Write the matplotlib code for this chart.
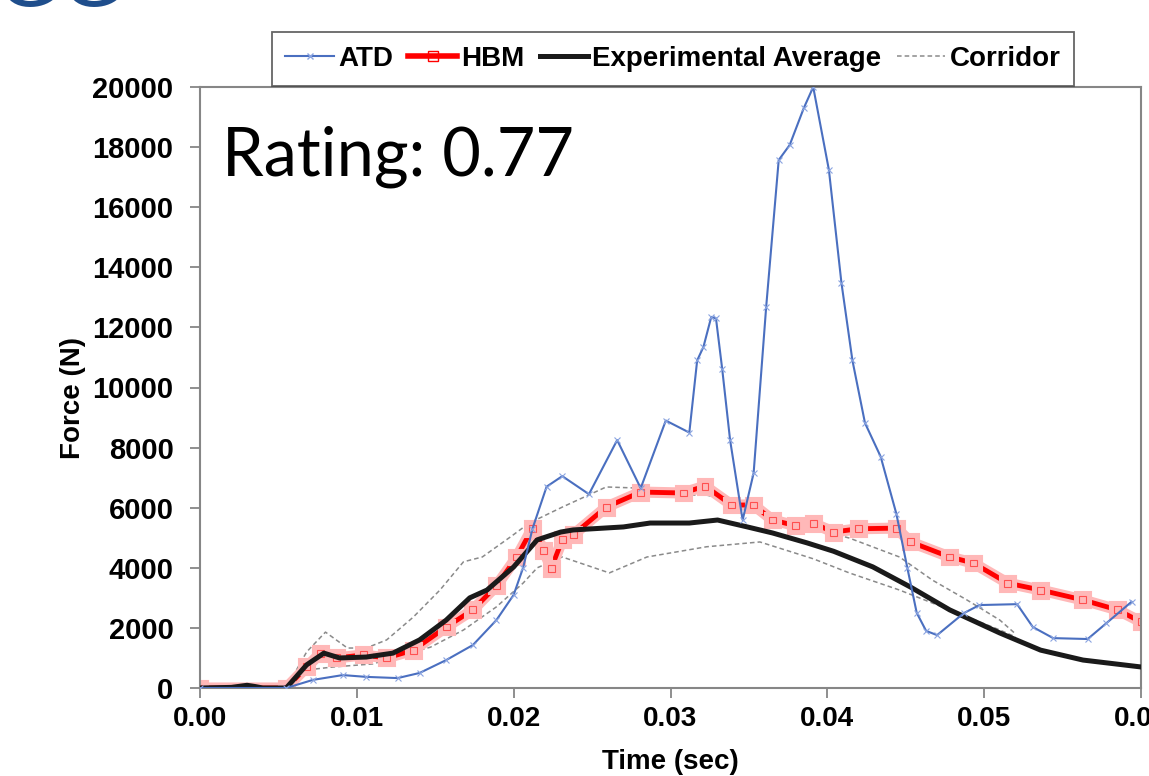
import numpy as np
import matplotlib
matplotlib.use("Agg")
import matplotlib.pyplot as plt
import matplotlib.patheffects as pe
from matplotlib.lines import Line2D

plt.rcParams['font.family'] = ['Liberation Sans', 'DejaVu Sans']

# ATD (dummy) force trace
atd_t = [0.0, 0.0055, 0.0072, 0.0091, 0.0106, 0.0126, 0.0140, 0.0157, 0.0174, 0.0189,
         0.0200, 0.0206, 0.0212, 0.0221, 0.0231, 0.0248, 0.0266, 0.0281, 0.0297, 0.0312,
         0.0317, 0.0321, 0.0326, 0.0329, 0.0333, 0.0338, 0.0346, 0.0353, 0.0361, 0.0369,
         0.0376, 0.0385, 0.0391, 0.0401, 0.0409, 0.0416, 0.0424, 0.0434, 0.0444, 0.0451,
         0.0457, 0.0463, 0.0470, 0.0487, 0.0497, 0.0521, 0.0531, 0.0544, 0.0566, 0.0578,
         0.0594]
atd_f = [0, 0, 270, 430, 370, 330, 500, 930, 1430, 2260,
         3100, 4000, 5300, 6700, 7050, 6450, 8250, 6650, 8900, 8500,
         10900, 11350, 12350, 12300, 10600, 8250, 5590, 7150, 12680, 17570,
         18070, 19300, 20000, 17240, 13480, 10900, 8820, 7700, 5800, 4000,
         2500, 1900, 1760, 2490, 2760, 2790, 2030, 1660, 1630, 2160,
         2870]

# HBM (human body model) force trace
hbm_t = [0.0, 0.0055, 0.0068, 0.0077, 0.0087, 0.0104, 0.0119, 0.0136, 0.0157, 0.0174,
         0.0189, 0.0202, 0.0212, 0.0219, 0.0224, 0.0231, 0.0238, 0.0259, 0.0281, 0.0308,
         0.0322, 0.0339, 0.0353, 0.0365, 0.0380, 0.0391, 0.0404, 0.0420, 0.0444, 0.0453,
         0.0478, 0.0493, 0.0515, 0.0536, 0.0563, 0.0585, 0.0600]
hbm_f = [0, 0, 700, 1160, 1000, 1100, 1000, 1260, 2030, 2600,
         3400, 4360, 5320, 4590, 3990, 4930, 5100, 6020, 6520, 6490,
         6720, 6090, 6090, 5590, 5400, 5480, 5190, 5300, 5320, 4860,
         4360, 4160, 3490, 3260, 2930, 2600, 2200]

# experimental average
exp_t = [0.0, 0.0020, 0.0030, 0.0035, 0.0040, 0.0055, 0.0068, 0.0079, 0.0089, 0.0106,
         0.0123, 0.0140, 0.0157, 0.0172, 0.0183, 0.0200, 0.0215, 0.0230, 0.0238, 0.0270,
         0.0287, 0.0312, 0.0330, 0.0349, 0.0365, 0.0387, 0.0404, 0.0429, 0.0453, 0.0478,
         0.0510, 0.0536, 0.0563, 0.0600]
exp_f = [0, 20, 90, 50, 0, 0, 770, 1160, 1000, 1030,
         1160, 1600, 2260, 3000, 3260, 4030, 4930, 5190, 5260, 5360,
         5490, 5490, 5590, 5360, 5160, 4830, 4550, 4030, 3360, 2600,
         1830, 1260, 930, 700]

# corridor bounds
up_t = [0.0, 0.0055, 0.0068, 0.0080, 0.0094, 0.0106, 0.0119, 0.0136, 0.0153, 0.0168,
        0.0180, 0.0198, 0.0210, 0.0231, 0.0259, 0.0281, 0.0302, 0.0323, 0.0336, 0.0370,
        0.0414, 0.0446, 0.0467, 0.0489, 0.0510, 0.0520]
up_f = [0, 0, 1200, 1860, 1330, 1330, 1600, 2360, 3260, 4200,
        4360, 5030, 5490, 6020, 6690, 6650, 6420, 6420, 6260, 5600,
        4990, 4360, 3590, 2930, 2260, 1800]
lo_t = [0.0, 0.0055, 0.0068, 0.0085, 0.0110, 0.0147, 0.0168, 0.0189, 0.0206, 0.0215,
        0.0231, 0.0261, 0.0285, 0.0323, 0.0357, 0.0391, 0.0414, 0.0446, 0.0478, 0.0510,
        0.0520]
lo_f = [0, 0, 600, 700, 800, 1360, 1930, 2700, 3490, 4000,
        4360, 3830, 4360, 4700, 4860, 4300, 3830, 3260, 2600, 1930,
        1700]

BLUE = "#4a6fc0"; RED = "#ff0000"; GREY = "#8a8a8a"

fig = plt.figure(figsize=(11.49, 7.76), dpi=100)
ax = fig.add_axes([200/1149, 88/776, 941/1149, 601/776])

ax.plot(up_t, up_f, "--", color=GREY, lw=1.1, dashes=(3, 2), zorder=1)
ax.plot(lo_t, lo_f, "--", color=GREY, lw=1.1, dashes=(3, 2), zorder=1)
ax.plot(hbm_t, hbm_f, "-", color=RED, lw=3.5, marker="s", ms=5, mfc="none", mec="#ff5050", mew=0.8,
        zorder=2, path_effects=[pe.Stroke(linewidth=8, foreground="#ffb8b8"), pe.Normal()])
ax.plot(exp_t, exp_f, "-", color="#1a1a1a", lw=3.6, zorder=3)
ax.plot(atd_t, atd_f, "-", color=BLUE, lw=1.5, marker="x", ms=4, mew=0.8, mec="#8aa4e0", zorder=4)

ax.set_xlim(0, 0.06); ax.set_ylim(0, 20000)
ax.set_xticks(np.arange(0, 0.0601, 0.01))
ax.set_xticklabels([f"{v:.2f}" for v in np.arange(0, 0.0601, 0.01)])
ax.set_yticks(np.arange(0, 20001, 2000))
for s in ax.spines.values():
    s.set_color("#868686"); s.set_linewidth(1.5)
ax.tick_params(direction="out", length=7, width=1.3, color="#868686", labelsize=20, pad=6)
ax.tick_params(axis="y", labelsize=21, pad=12)
for lab in ax.get_xticklabels() + ax.get_yticklabels():
    lab.set_fontweight("bold")
ax.set_xlabel("Time (sec)", fontsize=20, fontweight="bold", labelpad=12)
ax.set_ylabel("Force (N)", fontsize=20, fontweight="bold")
ax.yaxis.set_label_coords(-0.121, 0.483)

ax.text(0.023, 0.853, "Rating: 0.77", transform=ax.transAxes, fontsize=48,
        family=["Lato", "DejaVu Sans"], va="baseline", ha="left")

handles = [
    Line2D([], [], color=BLUE, lw=1.5, marker="x", ms=5, mec="#8aa4e0"),
    Line2D([], [], color=RED, lw=4, marker="s", ms=7, mfc="none", mec=RED),
    Line2D([], [], color="#1a1a1a", lw=3.6),
    Line2D([], [], color=GREY, lw=1.1, ls=(0, (3, 2))),
]
leg = fig.legend(handles, ["ATD", "HBM", "Experimental Average", "Corridor"], ncol=4,
                 loc="center", bbox_to_anchor=(673/1149, 1 - 59/776), frameon=True, fancybox=False,
                 prop={"weight": "bold", "size": 20}, handlelength=1.75, handletextpad=0.15,
                 columnspacing=0.55, borderpad=0.5)
leg.get_frame().set_edgecolor("#404040"); leg.get_frame().set_linewidth(1.3)

# slide fragment at top-left corner
fig.text(-0.003, 0.992, "GG", fontsize=60, color="#1f4e8c", va="baseline")

fig.savefig("out.png", dpi=100)
